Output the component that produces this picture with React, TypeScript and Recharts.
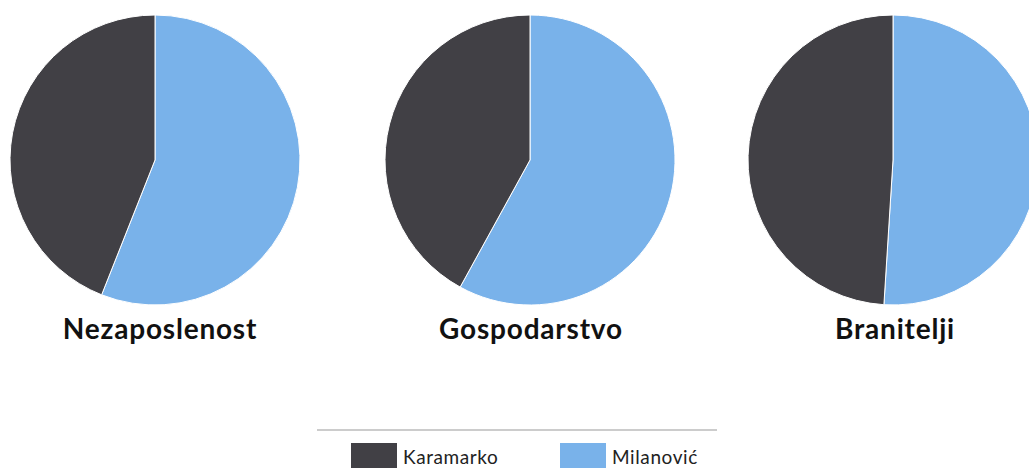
import { PieChart, Pie, Cell, Legend } from "recharts";

const candidates = ["Milanović", "Karamarko"];
const topics = ["Nezaposlenost", "Gospodarstvo", "Branitelji"];
const milanovic = [56, 58, 51];
const karamarko = [44, 42, 49];

const COLORS: Record<string, string> = {
  Milanović: "#79b2ea",
  Karamarko: "#414045",
};

const centers = [155, 530, 893];
const titleX = [160, 531, 895];
const FONT = "Lato, 'Noto Sans', sans-serif";

function LegendBox() {
  const order = ["Karamarko", "Milanović"];
  return (
    <div style={{ position: "relative", width: 1029, height: 43 }}>
      <div style={{ position: "absolute", left: 317, width: 400, top: 4, height: 2, background: "#cccccc" }} />
      {order.map((name, i) => (
        <div
          key={name}
          style={{ position: "absolute", left: i === 0 ? 351 : 560, top: 18, display: "flex", alignItems: "flex-start" }}
        >
          <div style={{ width: 46, height: 30, background: COLORS[name] }} />
          <span style={{ marginLeft: 6, marginTop: 2, fontSize: 19, letterSpacing: 0.6, fontFamily: FONT, color: "#222" }}>
            {name}
          </span>
        </div>
      ))}
    </div>
  );
}

export default function App() {
  const pies = topics.map((topic, t) => ({
    topic,
    data: candidates.map((name) => ({
      name,
      value: name === "Milanović" ? milanovic[t] : karamarko[t],
    })),
  }));

  return (
    <div style={{ position: "absolute", left: 0, top: 0, width: 1029, height: 468, background: "#fff", overflow: "hidden" }}>
      <PieChart width={1029} height={468} margin={{ top: 0, right: 0, bottom: 0, left: 0 }}>
        {pies.map((p, t) => (
          <Pie
            key={p.topic}
            data={p.data}
            dataKey="value"
            nameKey="name"
            cx={centers[t]}
            cy={160}
            outerRadius={145}
            startAngle={90}
            endAngle={-270}
            stroke="#ffffff"
            strokeWidth={1}
            isAnimationActive={false}
          >
            {p.data.map((d) => (
              <Cell key={d.name} fill={COLORS[d.name]} />
            ))}
          </Pie>
        ))}
        <Legend
          content={() => <LegendBox />}
          wrapperStyle={{ position: "absolute", top: 425, left: 0, width: 1029 }}
        />
      </PieChart>
      {topics.map((topic, t) => (
        <div
          key={topic}
          style={{
            position: "absolute",
            left: titleX[t] - 150,
            width: 300,
            top: 311,
            textAlign: "center",
            fontFamily: FONT,
            fontWeight: 700,
            fontSize: 28,
            letterSpacing: 0.8,
            color: "#111",
          }}
        >
          {topic}
        </div>
      ))}
    </div>
  );
}
